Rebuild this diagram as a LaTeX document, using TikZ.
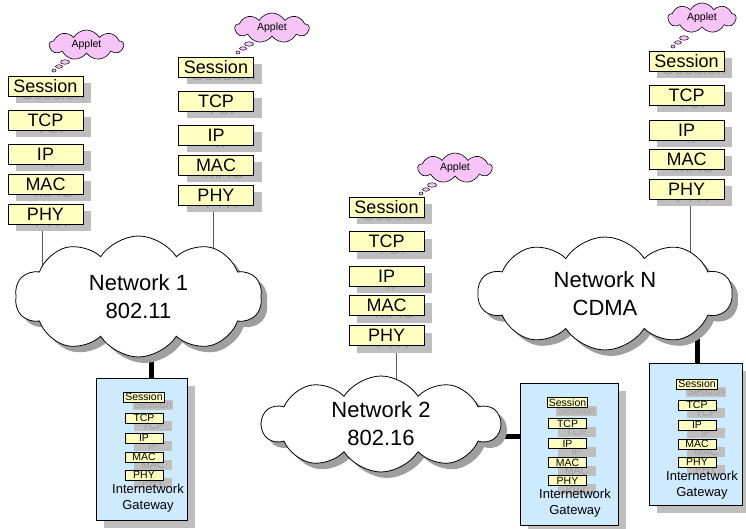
\documentclass[tikz,border=0pt]{standalone}
\usepackage{fontspec}
\setmainfont{Liberation Sans}
\usepackage{tikz}
\usetikzlibrary{shapes.symbols,shapes.geometric,shadows,backgrounds}

\definecolor{layerfill}{RGB}{255,255,192}
\definecolor{shadefill}{RGB}{190,190,190}
\definecolor{shadetext}{RGB}{160,160,160}
\definecolor{gwfill}{RGB}{206,234,255}
\definecolor{appletpink}{RGB}{246,196,246}
\definecolor{wiregray}{RGB}{90,90,90}

\begin{document}
\begin{tikzpicture}[x=1pt,y=-1pt,
		layer/.style = {draw, fill=layerfill, line width=0.8pt, minimum width=75pt, minimum height=20pt, inner sep=1pt, font=\fontsize{18}{18}\selectfont},
		layershade/.style = {fill=shadefill, text=shadetext, minimum width=75pt, minimum height=20pt, inner sep=1pt, font=\fontsize{18}{18}\selectfont},
		gwlayer/.style = {draw, fill=layerfill, line width=0.7pt, minimum width=38pt, minimum height=10pt, inner xsep=1.5pt, inner ysep=0.5pt, font=\fontsize{10.5}{10.5}\selectfont},
		gwshade/.style = {fill=shadefill, text=shadetext, minimum width=38pt, minimum height=10pt, inner xsep=1.5pt, inner ysep=0.5pt, font=\fontsize{10.5}{10.5}\selectfont},
		netcloud/.style = {cloud, cloud puffs=10, cloud puff arc=115, cloud ignores aspect, draw, fill=white, line width=0.8pt, inner sep=0pt, align=center,
			font=\fontsize{22}{28}\selectfont, drop shadow={shadow xshift=6pt, shadow yshift=-6pt, fill=gray!75, opacity=1}},
		applet/.style = {cloud, cloud puffs=9, cloud puff arc=120, cloud ignores aspect, draw, fill=appletpink, line width=0.6pt, inner sep=0pt,
			minimum width=74pt, minimum height=30pt, font=\fontsize{10.5}{10.5}\selectfont},
		bubble/.style = {ellipse, draw, fill=appletpink, line width=0.5pt, inner sep=0pt},
		gateway/.style = {draw, fill=gwfill, line width=0.8pt, minimum height=142pt,
			drop shadow={shadow xshift=8pt, shadow yshift=-8pt, fill=shadefill, opacity=1}},
		wire/.style = {draw=wiregray, line width=1pt},
		link/.style = {draw=black, line width=5pt}]

	\useasboundingbox (0,0) rectangle (746,529);

	% networks
	\node[netcloud, minimum width=247pt, minimum height=121pt] (net1) at (138.5,296.5) {Network 1\\802.11};
	\node[netcloud, minimum width=238pt, minimum height=96pt] (net2) at (381,424) {Network 2\\802.16};
	\node[netcloud, minimum width=254pt, minimum height=113pt] (netN) at (605,293.5) {Network N\\CDMA};

	% host stacks
	\foreach \s/\sx/\sy in {1/45.5/86, 2/216/67, 3/386.5/207.5, 4/686.5/61.5} {
		\foreach \name/\dy in {Session/0, TCP/34, IP/68.5, MAC/98, PHY/128} {
			\node[layershade] at (\sx+8, \sy+\dy+7) {\name};
			\node[layer] (s\s-\name) at (\sx, \sy+\dy) {\name};
		}
	}

	% applets
	\node[applet] (app1) at (86.5,45) {Applet};
	\node[applet] (app2) at (272,28) {Applet};
	\node[applet] (app3) at (455,168) {Applet};
	\node[applet, minimum width=68pt] (app4) at (702,18) {Applet};
	\foreach \a/\bx/\by in {1/65/62, 2/249/44, 3/432/185, 4/684/38} {
		\node[bubble, minimum width=9pt, minimum height=4.5pt] (app\a-b1) at (\bx,\by) {};
		\node[bubble, minimum width=7pt, minimum height=3.5pt] (app\a-b2) at (\bx-6,\by+4.5) {};
		\node[bubble, minimum width=4pt, minimum height=3pt] (app\a-b3) at (\bx-11,\by+8.5) {};
	}

	% gateways
	\node[gateway, minimum width=91pt] (gw1) at (141.5,449) {};
	\node[gateway, minimum width=98pt] (gw2) at (569,454) {};
	\node[gateway, minimum width=93pt] (gw3) at (695.5,434) {};
	\foreach \g/\gx/\gy/\tx in {1/144/397/148, 2/567.5/402.5/575, 3/697/384/702} {
		\foreach \name/\dy in {Session/0, TCP/21, IP/41, MAC/60, PHY/78} {
			\node[gwshade] at (\gx+9, \gy+\dy+8) {\name};
			\node[gwlayer] (gw\g-\name) at (\gx, \gy+\dy) {\name};
		}
		\node[align=center, font=\fontsize{13}{16}\selectfont] (gw\g-label) at (\tx, \gy+101) {Internetwork\\Gateway};
	}

	% connectors
	\begin{scope}[on background layer]
		\path[wire] ([xshift=-3pt]s1-PHY.center) -- ([xshift=-3pt]s1-PHY.center |- net1.center);
		\path[wire] ([xshift=-3pt]s2-PHY.center) -- ([xshift=-3pt]s2-PHY.center |- net1.center);
		\path[wire] ([xshift=10pt]s3-PHY.center) -- ([xshift=10pt]s3-PHY.center |- net2.center);
		\path[wire] ([xshift=3.5pt]s4-PHY.center) -- ([xshift=3.5pt]s4-PHY.center |- netN.center);
		\path[link] ([xshift=9.5pt]gw1.north) -- ([xshift=9.5pt]gw1.north |- net1.center);
		\path[link] ([yshift=18pt]gw2.west) -- ([yshift=18pt]gw2.west -| net2.center);
		\path[link] ([xshift=1.5pt]gw3.north) -- ([xshift=1.5pt]gw3.north |- netN.center);
	\end{scope}
\end{tikzpicture}
\end{document}
